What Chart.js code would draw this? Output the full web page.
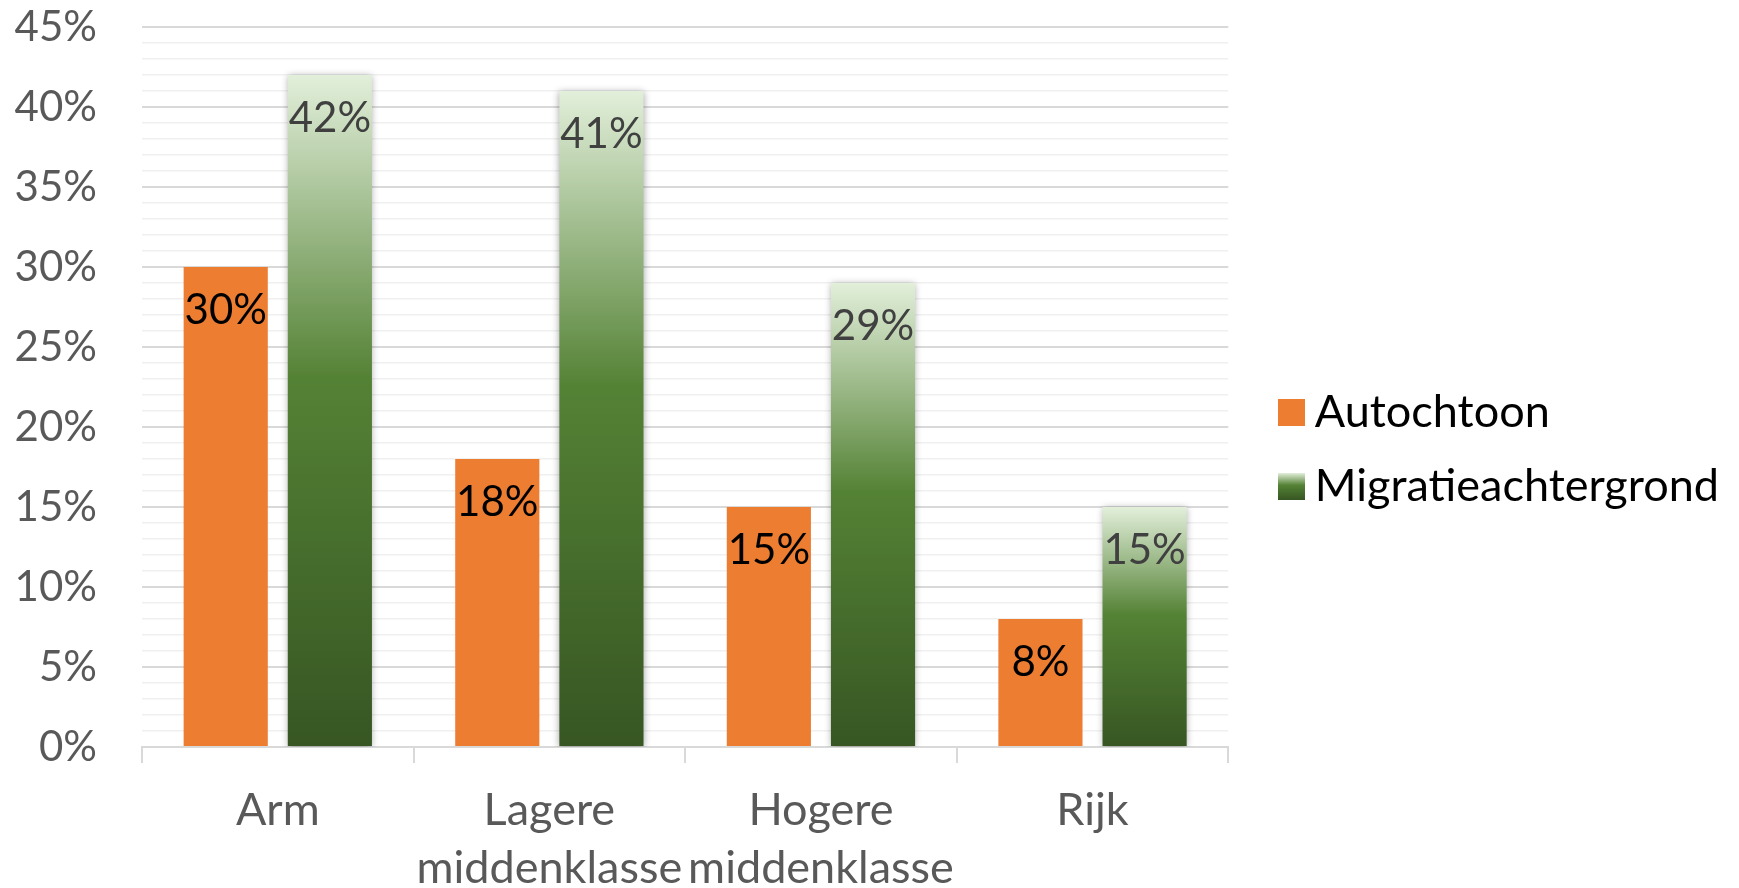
<!DOCTYPE html>
<html>
<head>
<meta charset="utf-8">
<script src="https://cdn.jsdelivr.net/npm/chart.js@4/dist/chart.umd.min.js"></script>
<style>
  html, body { margin: 0; padding: 0; background: #ffffff; }
  #wrap { width: 1739px; height: 888px; }
</style>
</head>
<body>
<div id="wrap"><canvas id="c" width="1739" height="888"></canvas></div>
<script>
// ---- data ----
const categories = ['Arm', ['Lagere', 'middenklasse'], ['Hogere', 'middenklasse'], 'Rijk'];
const seriesNames = ['Autochtoon', 'Migratieachtergrond'];
const autochtoon = [30, 18, 15, 8];
const migratie = [42, 41, 29, 15];
const yTickLabels = ['0%', '5%', '10%', '15%', '20%', '25%', '30%', '35%', '40%', '45%'];

const FONT = 'Lato';
const FS = 42;      // numbers
const FS_TXT = 45;  // words (legend, categories)
const LEG_PAD = 29;
const BOX = 27;

function greenGradient(ctx, top, bottom) {
  const g = ctx.createLinearGradient(0, top, 0, bottom);
  g.addColorStop(0, '#e2efda');
  g.addColorStop(0.45, '#548235');
  g.addColorStop(1, '#375623');
  return g;
}

function legendSwatch(kind) {
  const cv = document.createElement('canvas');
  cv.width = BOX; cv.height = BOX;
  const c = cv.getContext('2d');
  c.fillStyle = kind === 0 ? '#ed7d31' : greenGradient(c, 0, BOX);
  c.fillRect(0, 0, BOX, BOX);
  return cv;
}
const swatches = [legendSwatch(0), legendSwatch(1)];

const dataLabelPlugin = {
  id: 'dataLabels',
  beforeDatasetDraw(chart, args) {
    if (args.index === 1) {
      const ctx = chart.ctx;
      ctx.save();
      ctx.shadowColor = 'rgba(0,0,0,0.35)';
      ctx.shadowBlur = 7;
      ctx.shadowOffsetX = 0;
      ctx.shadowOffsetY = 1;
    }
  },
  afterDatasetDraw(chart, args) {
    if (args.index === 1) chart.ctx.restore();
  },
  afterDatasetsDraw(chart) {
    const ctx = chart.ctx;
    ctx.save();
    ctx.font = FS + 'px ' + FONT;
    ctx.textAlign = 'center';
    ctx.textBaseline = 'middle';
    chart.data.datasets.forEach((ds, i) => {
      const meta = chart.getDatasetMeta(i);
      ctx.fillStyle = i === 0 ? '#000000' : '#404040';
      meta.data.forEach((bar, j) => {
        ctx.fillText(ds.data[j] + '%', bar.x, bar.y + 43);
      });
    });
    ctx.restore();
  }
};

const chart = new Chart(document.getElementById('c'), {
  type: 'bar',
  data: {
    labels: categories,
    datasets: [
      {
        label: seriesNames[0],
        data: autochtoon,
        backgroundColor: '#ed7d31',
        yAxisID: 'y',
      },
      {
        label: seriesNames[1],
        data: migratie,
        yAxisID: 'y',
        backgroundColor(context) {
          const chart = context.chart;
          const ys = chart.scales.y;
          if (context.type !== 'data' || !ys || !chart.chartArea) return '#548235';
          const top = ys.getPixelForValue(context.parsed.y);
          const bottom = ys.getPixelForValue(0);
          return greenGradient(chart.ctx, top, bottom);
        }
      }
    ]
  },
  options: {
    responsive: false,
    devicePixelRatio: 1,
    animation: false,
    layout: { padding: { left: 15, top: 0, right: 10, bottom: 0 } },
    datasets: {
      bar: { categoryPercentage: 0.767, barPercentage: 0.808 }
    },
    plugins: {
      tooltip: { enabled: false },
      legend: {
        position: 'right',
        maxWidth: 480,
        title: { display: true, text: '', padding: 0, font: { size: 11, lineHeight: 1 } },
        labels: {
          usePointStyle: true,
          pointStyleWidth: 2,
          boxHeight: BOX,
          padding: LEG_PAD,
          color: '#000000',
          font: { family: FONT, size: FS_TXT },
          generateLabels() {
            return seriesNames.map((name, i) => ({
              text: name,
              pointStyle: swatches[i],
              fillStyle: i === 0 ? '#ed7d31' : '#548235',
              strokeStyle: 'rgba(0,0,0,0)',
              lineWidth: 0,
              datasetIndex: i,
              fontColor: '#000000'
            }));
          }
        }
      }
    },
    scales: {
      x: {
        type: 'category',
        grid: {
          display: true,
          offset: true,
          drawOnChartArea: false,
          drawTicks: true,
          tickLength: 16,
          color: '#d9d9d9',
          lineWidth: 2
        },
        border: { display: true, color: '#d9d9d9', width: 2 },
        ticks: {
          color: '#595959',
          font: { family: FONT, size: FS_TXT, lineHeight: 58 / FS_TXT },
          maxRotation: 0,
          autoSkip: false,
          padding: 18
        },
        afterFit(scale) { scale.height = 141; }
      },
      y: {
        type: 'linear',
        position: 'left',
        min: 0,
        max: 45,
        border: { display: false },
        grid: {
          drawTicks: false,
          color: (c) => (c.tick && c.tick.value % 5 === 0) ? '#d9d9d9' : '#f0f0f0',
          lineWidth: (c) => (c.tick && c.tick.value % 5 === 0) ? 2 : 1.5
        },
        ticks: {
          stepSize: 1,
          autoSkip: false,
          padding: 45,
          color: '#595959',
          font: { family: FONT, size: FS },
          callback: (v) => (v % 5 === 0 ? yTickLabels[v / 5] : '')
        },
        afterFit(scale) {
          scale.width = 127;
          scale.paddingTop = 27;
          scale.paddingBottom = 25;
        }
      },
      gap: {
        type: 'linear',
        position: 'right',
        display: true,
        grid: { display: false },
        border: { display: false },
        ticks: { display: false },
        afterFit(scale) { scale.width = 33; }
      }
    }
  },
  plugins: [dataLabelPlugin]
});
</script>
</body>
</html>
